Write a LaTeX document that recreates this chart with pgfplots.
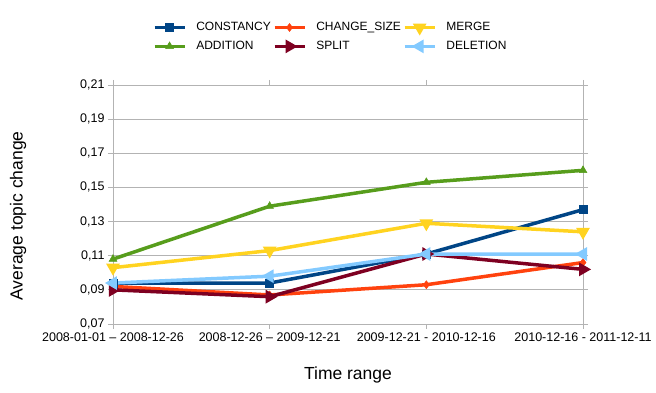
\documentclass[border=0pt]{standalone}
\usepackage{fontspec}
\setmainfont{Liberation Sans}
\usepackage{pgfplots}
\pgfplotsset{compat=1.18}
\usetikzlibrary{plotmarks}

\definecolor{cConst}{HTML}{004586}
\definecolor{cSize}{HTML}{FF420E}
\definecolor{cMerge}{HTML}{FFD320}
\definecolor{cAdd}{HTML}{579D1C}
\definecolor{cSplit}{HTML}{7E0021}
\definecolor{cDel}{HTML}{83CAFF}
\definecolor{gridgray}{HTML}{B3B3B3}

\begin{document}
\begin{tikzpicture}
\begin{axis}[
  scale only axis, width=470pt, height=239pt,
  xmin=0, xmax=3, ymin=0.07, ymax=0.21,
  xtick={0,1,2,3},
  xticklabels={2008-01-01 -- 2008-12-26, 2008-12-26 -- 2009-12-21, 2009-12-21 - 2010-12-16, 2010-12-16 - 2011-12-11},
  x tick label style={font=\fontsize{12.5}{14}\selectfont},
  ytick={0.07,0.09,...,0.21},
  y tick label style={font=\fontsize{12.5}{14}\selectfont},
  /pgf/number format/.cd, fixed, fixed zerofill, precision=2, use comma, assume math mode=true, /pgfplots/.cd,
  tick align=outside, major tick length=5pt,
  tick style={gridgray, thick},
  axis line style={gridgray, thick},
  ymajorgrids, major grid style={gridgray, thick},
  ylabel={Average topic change},
  ylabel style={font=\fontsize{17.5}{20}\selectfont, at={(axis description cs:-0.202,0.452)}, anchor=center},
  xlabel={Time range},
  xlabel style={font=\fontsize{17.5}{20}\selectfont, at={(axis description cs:0.5,-0.213)}, anchor=center},
  legend columns=3, legend cell align=left,
  legend style={draw=none, fill=none, font=\fontsize{12}{14}\selectfont,
    at={(axis description cs:0.462,1.201)}, anchor=center,
    nodes={inner sep=1pt},
    /tikz/every even column/.append style={column sep=1pt},
    /tikz/every odd column/.append style={column sep=9pt},
    row sep=7pt},
  legend image code/.code={\draw[mark repeat=2, mark phase=2] plot coordinates {(0pt,0pt) (15pt,0pt) (30pt,0pt)};},
  every axis plot/.append style={line width=3.5pt, mark options={solid, line width=0.5pt}},
  clip=false,
]
\addplot[cConst, mark=square*, mark size=4pt] coordinates {(0,0.094) (1,0.094) (2,0.111) (3,0.137)};
\addplot[cSize, mark=diamond*, mark size=4pt] coordinates {(0,0.092) (1,0.087) (2,0.093) (3,0.106)};
\addplot[cMerge, mark=triangle*, mark size=4.5pt, mark options={rotate=180}] coordinates {(0,0.103) (1,0.113) (2,0.129) (3,0.124)};
\addplot[cAdd, mark=triangle*, mark size=4.5pt] coordinates {(0,0.108) (1,0.139) (2,0.153) (3,0.160)};
\addplot[cSplit, mark=triangle*, mark size=4.5pt, mark options={rotate=-90}] coordinates {(0,0.090) (1,0.086) (2,0.111) (3,0.102)};
\addplot[cDel, mark=triangle*, mark size=4.5pt, mark options={rotate=90}] coordinates {(0,0.094) (1,0.098) (2,0.111) (3,0.111)};
\legend{CONSTANCY, CHANGE\_SIZE, MERGE, ADDITION, SPLIT, DELETION}
\end{axis}
\path (current axis.south west) ++(-113pt,-69pt) rectangle ++(656pt,393pt);
\end{tikzpicture}
\end{document}
